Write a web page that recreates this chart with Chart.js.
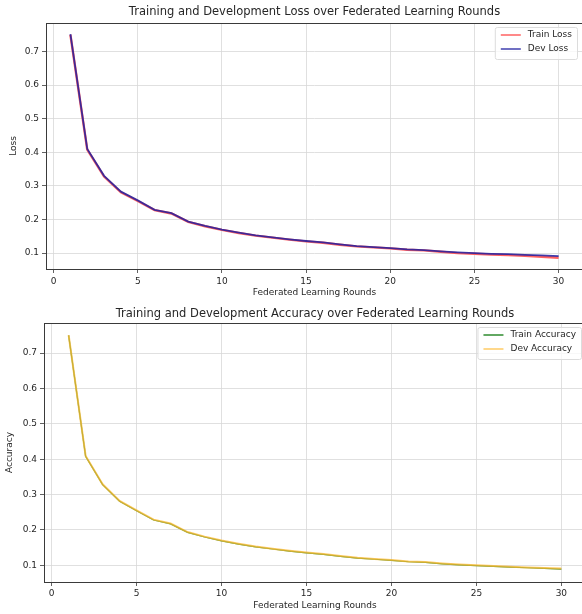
<!DOCTYPE html>
<html>
<head>
<meta charset="utf-8">
<script src="https://cdn.jsdelivr.net/npm/chart.js@4.4.1/dist/chart.umd.min.js"></script>
<style>
  html, body { margin: 0; padding: 0; background: #fff; overflow: hidden; }
  #wrap { position: relative; width: 582px; height: 614px; overflow: hidden; }
  canvas { position: absolute; left: 0; }
  #lossChart { top: 0; }
  #accChart { top: 307px; }
</style>
</head>
<body>
<div id="wrap">
  <canvas id="lossChart" width="590" height="307"></canvas>
  <canvas id="accChart" width="590" height="307"></canvas>
</div>
<script>
// data
const rounds = [1, 2, 3, 4, 5, 6, 7, 8, 9, 10, 11, 12, 13, 14, 15, 16, 17, 18, 19, 20, 21, 22, 23, 24, 25, 26, 27, 28, 29, 30];
const trainLoss = [0.750, 0.408, 0.328, 0.281, 0.255, 0.228, 0.218, 0.193, 0.180, 0.169, 0.160, 0.152, 0.146, 0.140, 0.135, 0.131, 0.125, 0.120, 0.117, 0.114, 0.110, 0.108, 0.104, 0.100, 0.098, 0.096, 0.094, 0.092, 0.089, 0.086];
const devLoss = [0.752, 0.410, 0.330, 0.283, 0.257, 0.229, 0.219, 0.194, 0.181, 0.170, 0.161, 0.153, 0.147, 0.141, 0.136, 0.132, 0.126, 0.121, 0.118, 0.115, 0.111, 0.109, 0.105, 0.102, 0.100, 0.098, 0.097, 0.095, 0.093, 0.091];
const trainAcc = [0.750, 0.408, 0.328, 0.281, 0.254, 0.228, 0.217, 0.193, 0.180, 0.169, 0.160, 0.152, 0.146, 0.140, 0.135, 0.131, 0.125, 0.120, 0.117, 0.114, 0.110, 0.108, 0.104, 0.101, 0.099, 0.097, 0.095, 0.093, 0.091, 0.089];
const devAcc = [0.751, 0.409, 0.329, 0.282, 0.255, 0.229, 0.218, 0.194, 0.181, 0.170, 0.161, 0.153, 0.147, 0.141, 0.136, 0.132, 0.126, 0.121, 0.118, 0.115, 0.111, 0.109, 0.105, 0.102, 0.100, 0.098, 0.096, 0.094, 0.092, 0.091];
const xTicks = [0, 5, 10, 15, 20, 25, 30];
const yTicks = [0.1, 0.2, 0.3, 0.4, 0.5, 0.6, 0.7];

const FONT = '"DejaVu Sans", sans-serif';
const TEXT = '#262626';

// matplotlib style: box around the axes + title centred on the axes
const frame = {
  id: 'frame',
  afterDatasetsDraw(chart) {
    const a = chart.chartArea, ctx = chart.ctx;
    ctx.save();
    ctx.strokeStyle = '#3a3a3a';
    ctx.lineWidth = 1;
    ctx.strokeRect(Math.round(a.left) + 0.5, Math.round(a.top) + 0.5,
      Math.round(a.right - a.left), Math.round(a.bottom - a.top));
    ctx.restore();
  },
  afterDraw(chart, args, opts) {
    const a = chart.chartArea, ctx = chart.ctx;
    ctx.save();
    ctx.font = '11.5px ' + FONT;
    ctx.fillStyle = TEXT;
    ctx.textAlign = 'center';
    ctx.textBaseline = 'middle';
    ctx.fillText(opts.title, (a.left + a.right) / 2, a.top - opts.titleGap);
    ctx.restore();
  }
};

// legend drawn inside the axes, top right
const boxLegend = {
  id: 'boxLegend',
  afterDraw(chart, args, opts) {
    const ctx = chart.ctx, a = chart.chartArea;
    const sets = chart.data.datasets;
    ctx.save();
    ctx.font = '9px ' + FONT;
    const textW = Math.max(...sets.map(d => ctx.measureText(d.label).width));
    const w = 6 + 20 + 7 + textW + 5;
    const h = sets.length * 14 + 4;
    const x = a.right - opts.inset - w, y = a.top + 4;
    ctx.fillStyle = 'rgba(255,255,255,0.8)';
    ctx.strokeStyle = '#dcdcdc';
    ctx.lineWidth = 1;
    ctx.beginPath();
    ctx.roundRect(x + 0.5, y + 0.5, w, h, 2);
    ctx.fill();
    ctx.stroke();
    sets.forEach((d, i) => {
      const cy = y + 8 + i * 14;
      ctx.strokeStyle = d.borderColor;
      ctx.lineWidth = 1.5;
      ctx.beginPath();
      ctx.moveTo(x + 6, cy);
      ctx.lineTo(x + 26, cy);
      ctx.stroke();
      ctx.fillStyle = TEXT;
      ctx.textBaseline = 'middle';
      ctx.fillText(d.label, x + 33, cy);
    });
    ctx.restore();
  }
};

function points(ys) {
  return rounds.map((r, i) => ({ x: r, y: ys[i] }));
}

function makeChart(id, o) {
  const ctx = document.getElementById(id).getContext('2d');
  return new Chart(ctx, {
    type: 'line',
    data: {
      datasets: o.series.map((s, i) => ({
        label: s.label,
        data: points(s.data),
        borderColor: s.color,
        borderWidth: s.width,
        order: o.series.length - 1 - i, // later series drawn on top
        pointRadius: 0,
        tension: 0,
        fill: false
      }))
    },
    options: {
      responsive: false,
      animation: false,
      devicePixelRatio: 1,
      layout: { padding: { left: 0, right: o.padRight, top: o.padTop, bottom: 0 } },
      plugins: {
        legend: { display: false },
        tooltip: { enabled: false },
        title: { display: false },
        frame: { title: o.title, titleGap: o.titleGap },
        boxLegend: { inset: o.legendInset }
      },
      scales: {
        x: {
          type: 'linear',
          min: -0.45,
          max: 31.45,
          afterBuildTicks: s => { s.ticks = xTicks.map(v => ({ value: v })); },
          afterFit: s => { s.height = o.xHeight; },
          grid: { color: '#d8d8d8', lineWidth: 0.8, tickLength: 4, tickColor: '#3a3a3a', tickWidth: 0.8 },
          border: { display: false },
          ticks: { color: TEXT, font: { family: FONT, size: 9 }, padding: o.xTickPad, maxRotation: 0 },
          title: {
            display: true,
            text: 'Federated Learning Rounds',
            color: TEXT,
            font: { family: FONT, size: 9 },
            padding: { top: 0, bottom: o.xTitlePad }
          }
        },
        y: {
          min: 0.0527,
          max: 0.785,
          afterBuildTicks: s => { s.ticks = yTicks.map(v => ({ value: v })); },
          afterFit: s => { s.width = o.yWidth; },
          grid: { color: '#d8d8d8', lineWidth: 0.8, tickLength: 4, tickColor: '#3a3a3a', tickWidth: 0.8 },
          border: { display: false },
          ticks: { color: TEXT, font: { family: FONT, size: 9 }, padding: 3, callback: v => v.toFixed(1) },
          title: {
            display: true,
            text: o.yLabel,
            color: TEXT,
            font: { family: FONT, size: 9 },
            padding: { top: o.yTitlePad, bottom: 0 }
          }
        }
      }
    },
    plugins: [frame, boxLegend]
  });
}

makeChart('lossChart', {
  title: 'Training and Development Loss over Federated Learning Rounds',
  yLabel: 'Loss',
  series: [
    { label: 'Train Loss', data: trainLoss, color: 'rgba(255,80,80,0.9)', width: 2.4 },
    { label: 'Dev Loss', data: devLoss, color: 'rgba(30,30,160,0.85)', width: 1.8 }
  ],
  padTop: 23,
  titleGap: 11,
  padRight: 7,
  yWidth: 46,
  xHeight: 38,
  xTickPad: 3,
  xTitlePad: 9,
  yTitlePad: 8,
  legendInset: 6
});

makeChart('accChart', {
  title: 'Training and Development Accuracy over Federated Learning Rounds',
  yLabel: 'Accuracy',
  series: [
    { label: 'Train Accuracy', data: trainAcc, color: '#2e8b2e', width: 1.2 },
    { label: 'Dev Accuracy', data: devAcc, color: 'rgba(255,185,50,0.75)', width: 2 }
  ],
  padTop: 16,
  titleGap: 9,
  padRight: 4,
  yWidth: 44,
  xHeight: 32,
  xTickPad: 2,
  xTitlePad: 3,
  yTitlePad: 4,
  legendInset: 5
});
</script>
</body>
</html>
